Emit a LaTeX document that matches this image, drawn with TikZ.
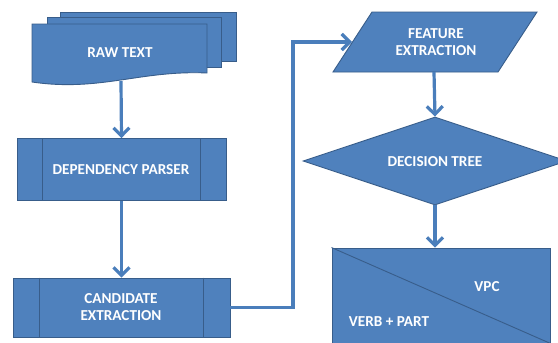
\documentclass[tikz,border=0pt]{standalone}
\usepackage{fontspec}
\setmainfont{Carlito}
\usepackage{tikz}
\usetikzlibrary{shapes.geometric,arrows.meta}
\definecolor{boxblue}{HTML}{4F81BD}
\definecolor{edgeblue}{HTML}{385D8A}
\definecolor{flowblue}{HTML}{4A7EBB}

\begin{document}
\begin{tikzpicture}[x=1pt,y=-1pt]
        %
        % `process' is used for the boxes with side bars.
        % `decision' is used for the diamond.
        % `flow' is used for the arrows between the steps.
        \tikzstyle{block} = [fill=boxblue,draw=edgeblue,line width=0.9pt]
        \tikzstyle{process} = [block,minimum height=62pt,inner sep=0pt]
        \tikzstyle{decision} = [block,diamond,aspect=3,minimum width=264pt,minimum height=88pt,inner sep=0pt]
        \tikzstyle{boxtext} = [text=white,font=\fontsize{15.2}{17.5}\selectfont\bfseries,align=center]
        \tikzstyle{flow} = [draw=flowblue,line width=3.2pt,-{Straight Barb[length=8pt,width=16pt]}]
        %
        \clip (0,0) rectangle (558,343);
        \fill[white] (0,0) rectangle (558,343);
        %
        % Raw text (stack of documents)
        \draw[block] (60,12) rectangle (236,61);
        \draw[block] (47,17) rectangle (221,67);
        \draw[block] (32,24) -- (207,24) -- (207,73)
                .. controls (140,70) and (100,92) .. (32,82) -- cycle;
        \node[boxtext] (raw) at (120,53) {RAW TEXT};
        \coordinate (rawbot) at (121,81);
        %
        % Dependency parser
        \node[process,minimum width=209pt] (dep) at (121.5,169.5) {};
        \draw[edgeblue,line width=0.9pt] ([xshift=26pt]dep.north west) -- ([xshift=26pt]dep.south west);
        \draw[edgeblue,line width=0.9pt] ([xshift=-26pt]dep.north east) -- ([xshift=-26pt]dep.south east);
        \node[boxtext] (deptext) at (121,170) {DEPENDENCY PARSER};
        %
        % Candidate extraction
        \node[process,minimum width=217pt,minimum height=59pt] (cand) at (121.5,307.5) {};
        \draw[edgeblue,line width=0.9pt] ([xshift=27pt]cand.north west) -- ([xshift=27pt]cand.south west);
        \draw[edgeblue,line width=0.9pt] ([xshift=-27pt]cand.north east) -- ([xshift=-27pt]cand.south east);
        \node[boxtext] (candtext) at (121,307) {CANDIDATE\\EXTRACTION};
        %
        % Feature extraction (parallelogram)
        \draw[block] (372,12) -- (537,12) -- (498,72) -- (333,72) -- cycle;
        \node[boxtext] (feat) at (436,42) {FEATURE\\EXTRACTION};
        \coordinate (featin) at (352,42);
        \coordinate (featout) at (434,72);
        %
        % Decision tree
        \node[decision] (tree) at (435,161) {};
        \node[boxtext] (treetext) at (435,162) {DECISION TREE};
        %
        % Output box
        \node[block,minimum width=218pt,minimum height=104pt,inner sep=0pt] (out) at (441,300) {};
        \draw[edgeblue,line width=0.9pt] (out.north west) -- ([yshift=9pt]out.south east);
        \node[boxtext] (vpc) at (487,287) {VPC};
        \node[boxtext] (verb) at (389,322) {VERB + PART};
        %
        % Arrows
        \coordinate (bend) at (293,42);
        \draw[flow] (rawbot) -- (dep.north);
        \draw[flow] (dep.south) -- (cand.north);
        \draw[flow] (cand.east) -| (bend) -- (featin);
        \draw[flow] (featout) -- (tree.north);
        \draw[flow] (tree.south) -- ([xshift=-6pt]out.north);
        %
\end{tikzpicture}
\end{document}
